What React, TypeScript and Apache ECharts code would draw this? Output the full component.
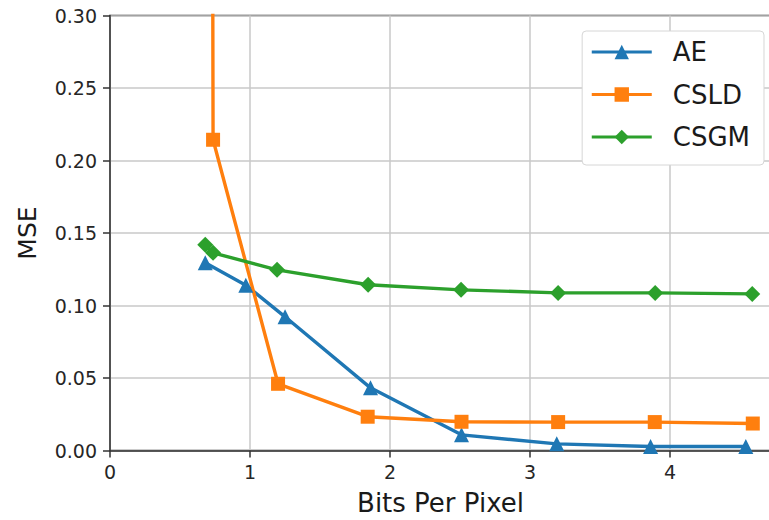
import React, { useEffect, useRef } from "react";
import * as echarts from "echarts";

const seriesNames = ["AE", "CSLD", "CSGM"];
const colors = ["#1f77b4", "#ff7f0e", "#2ca02c"];

const aeX = [0.68, 0.97, 1.25, 1.86, 2.51, 3.19, 3.86, 4.54];
const aeY = [0.1295, 0.114, 0.0922, 0.0432, 0.0108, 0.0046, 0.0028, 0.0028];

const csldX = [0.73, 0.736, 1.2, 1.84, 2.51, 3.2, 3.89, 4.59];
const csldY = [0.5, 0.2143, 0.046, 0.0233, 0.0198, 0.0196, 0.0196, 0.0186];

const csgmX = [0.68, 0.736, 1.193, 1.843, 2.507, 3.2, 3.893, 4.586];
const csgmY = [0.1419, 0.1363, 0.1246, 0.1143, 0.1108, 0.1087, 0.1087, 0.108];

const xTicks = [0, 1, 2, 3, 4];
const yTicks = [0, 0.05, 0.1, 0.15, 0.2, 0.25, 0.3];

const zip = (xs: number[], ys: number[]) => xs.map((x, i) => [x, ys[i]]);

export default function App() {
  const ref = useRef<HTMLDivElement>(null);
  useEffect(() => {
    if (!ref.current) return;
    const chart = echarts.init(ref.current, undefined, { renderer: "svg" });
    const font = "DejaVu Sans";
    const symbols = ["triangle", "rect", "diamond"];
    const sizes = [15, 14, 16];
    const datas = [zip(aeX, aeY), zip(csldX, csldY), zip(csgmX, csgmY)];
    chart.setOption({
      animation: false,
      backgroundColor: "#ffffff",
      textStyle: { fontFamily: font },
      grid: {
        left: 110,
        top: 15.5,
        width: 661,
        bottom: 69.5,
        show: true,
        borderColor: "#333333",
        borderWidth: 1.5,
        containLabel: false,
        outerBoundsMode: "none",
      },
      legend: {
        orient: "vertical",
        right: 5,
        top: 31,
        data: seriesNames,
        itemWidth: 60,
        itemHeight: 18,
        itemGap: 16.5,
        padding: [8, 14, 15, 8],
        backgroundColor: "#ffffff",
        borderColor: "#d6d6d6",
        borderWidth: 1,
        borderRadius: 4,
        lineStyle: { width: 3.2 },
        textStyle: {
          fontFamily: font,
          fontSize: 26,
          color: "#1a1a1a",
          padding: [0, 0, 0, 16],
        },
      },
      xAxis: {
        type: "value",
        min: 0,
        max: 4.72,
        interval: 1,
        axisLine: { show: true, onZero: false, lineStyle: { color: "#333333", width: 1.5 } },
        axisTick: { show: true, length: 7, lineStyle: { color: "#333333", width: 1.5 } },
        axisLabel: {
          fontFamily: font,
          fontSize: 19,
          color: "#262626",
          margin: 12,
          formatter: (v: number) => (xTicks.includes(v) ? String(v) : ""),
        },
        splitLine: { show: true, lineStyle: { color: "#c8c8c8", width: 1.5 } },
        name: "Bits Per Pixel",
        nameLocation: "middle",
        nameGap: 39,
        nameTextStyle: { fontFamily: font, fontSize: 26, color: "#1a1a1a" },
      },
      yAxis: {
        type: "value",
        min: 0,
        max: 0.3,
        interval: 0.05,
        axisLine: { show: true, onZero: false, lineStyle: { color: "#333333", width: 1.5 } },
        axisTick: { show: true, length: 7, lineStyle: { color: "#333333", width: 1.5 } },
        axisLabel: {
          fontFamily: font,
          fontSize: 19,
          color: "#262626",
          margin: 13,
          formatter: (v: number) =>
            yTicks.some((t) => Math.abs(t - v) < 1e-9) ? v.toFixed(2) : "",
        },
        splitLine: { show: true, lineStyle: { color: "#c8c8c8", width: 1.5 } },
        name: "MSE",
        nameLocation: "middle",
        nameGap: 70,
        nameTextStyle: { fontFamily: font, fontSize: 25, color: "#1a1a1a" },
      },
      series: seriesNames.map((name, i) => ({
        name,
        type: "line",
        data: datas[i],
        symbol: symbols[i],
        symbolSize: sizes[i],
        showSymbol: true,
        clip: true,
        color: colors[i],
        lineStyle: { color: colors[i], width: 3.4 },
        itemStyle: { color: colors[i], borderWidth: 0 },
        emphasis: { disabled: true },
      })),
    });
    return () => chart.dispose();
  }, []);
  return (
    <div
      ref={ref}
      style={{ position: "fixed", left: 0, top: 0, width: 769, height: 520 }}
    />
  );
}
